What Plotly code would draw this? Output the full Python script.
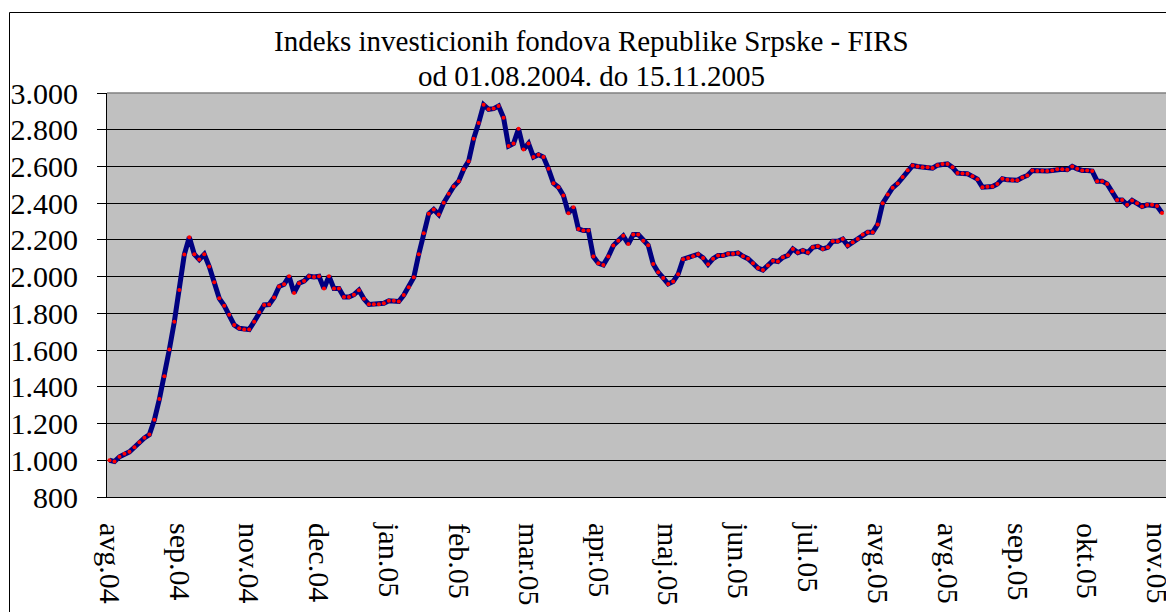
import plotly.graph_objects as go

# FIRS index values (one per observation, 01.08.2004 - 15.11.2005)
values = [
    1000, 993, 1019, 1035, 1046, 1071, 1098, 1122, 1140, 1220,
    1333, 1458, 1603, 1755, 1927, 2120, 2215, 2122, 2093, 2122,
    2055, 1969, 1882, 1842, 1793, 1737, 1719, 1712, 1712, 1755,
    1806, 1846, 1848, 1886, 1946, 1958, 2002, 1911, 1964, 1976,
    2002, 1998, 2002, 1935, 2002, 1935, 1935, 1889, 1889, 1902,
    1926, 1879, 1849, 1849, 1849, 1855, 1869, 1869, 1865, 1900,
    1942, 1996, 2122, 2236, 2342, 2366, 2338, 2402, 2451, 2491,
    2520, 2585, 2629, 2751, 2836, 2936, 2911, 2915, 2929, 2865,
    2711, 2725, 2805, 2693, 2725, 2651, 2664, 2651, 2587, 2509,
    2487, 2442, 2345, 2378, 2260, 2251, 2251, 2109, 2073, 2064,
    2109, 2169, 2196, 2222, 2178, 2229, 2229, 2196, 2171, 2069,
    2024, 1993, 1960, 1973, 2013, 2095, 2102, 2111, 2122, 2102,
    2067, 2098, 2115, 2115, 2124, 2124, 2129, 2111, 2098, 2073,
    2047, 2036, 2060, 2087, 2082, 2105, 2116, 2151, 2131, 2142,
    2131, 2160, 2165, 2151, 2160, 2193, 2193, 2205, 2169, 2187,
    2205, 2229, 2242, 2242, 2284, 2400, 2447, 2484, 2507, 2542,
    2580, 2605, 2600, 2596, 2596, 2591, 2607, 2614, 2614, 2595,
    2564, 2561, 2560, 2546, 2531, 2487, 2489, 2491, 2505, 2533,
    2527, 2525, 2525, 2540, 2551, 2578, 2575, 2576, 2575, 2578,
    2585, 2585, 2582, 2600, 2587, 2578, 2578, 2575, 2520, 2520,
    2505, 2465, 2418, 2418, 2391, 2415, 2400, 2382, 2391, 2391,
    2385, 2347,
]

# category tick labels (every 14th observation)
tick_labels = ["avg.04", "sep.04", "nov.04", "dec.04", "jan.05", "feb.05",
               "mar.05", "apr.05", "maj.05", "jun.05", "jul.05", "avg.05",
               "avg.05", "sep.05", "okt.05", "nov.05"]
tick_step = 14

y_ticks = list(range(800, 3001, 200))

title_line1 = "Indeks investicionih fondova Republike Srpske - FIRS"
title_line2 = "od 01.08.2004. do 15.11.2005"

x_idx = list(range(len(values)))
tick_positions = [i * tick_step for i in range(len(tick_labels))]

FONT = "Liberation Serif"

fig = go.Figure()
fig.add_trace(go.Scatter(
    x=x_idx, y=values, mode="lines",
    line=dict(color="#000080", width=5),
    hoverinfo="skip", showlegend=False,
))
fig.add_trace(go.Scatter(
    x=x_idx, y=values, mode="markers",
    marker=dict(color="#FF0000", size=4, line=dict(width=0)),
    showlegend=False,
))

# page body has an 8px margin, so the figure is offset by 8px in the window
OFF = 8
W, H = 1174 - OFF, 612 - OFF
L, R, T, B = 99, 6, 85, 115
pw = W - L - R
ph = H - T - B

def sx(px):  # window pixel -> paper x
    return (px - OFF - L) / pw

def sy(py):  # window pixel -> paper y
    return (H - B - (py - OFF)) / ph

fig.update_layout(
    width=W, height=H,
    margin=dict(l=L, r=R, t=T, b=B, pad=0, autoexpand=False),
    paper_bgcolor="white",
    plot_bgcolor="#C0C0C0",
    separators=",.",
    font=dict(family=FONT, size=30, color="black"),
    xaxis=dict(
        range=[-0.5, len(values) + 0.2],
        tickmode="array", tickvals=tick_positions, ticktext=tick_labels,
        tickangle=90, ticks="", showgrid=False, zeroline=False,
        showline=True, linecolor="black", linewidth=1,
        ticklabelstandoff=19, automargin=False, ticklabeloverflow="allow",
        tickfont=dict(family=FONT, size=30, color="black"),
    ),
    yaxis=dict(
        range=[800, 3000], tickmode="array", tickvals=y_ticks,
        tickformat=",d", ticks="outside", ticklen=9, tickcolor="black",
        tickwidth=1,
        showgrid=True, gridcolor="black", gridwidth=1, zeroline=False,
        showline=True, linecolor="black", linewidth=1,
        ticklabelstandoff=13, automargin=False, ticklabeloverflow="allow",
        tickfont=dict(family=FONT, size=30, color="black"),
    ),
    annotations=[
        dict(text=title_line1, x=sx(591), y=sy(41),
             xref="paper", yref="paper", showarrow=False,
             xanchor="center", yanchor="middle",
             font=dict(family=FONT, size=29, color="black")),
        dict(text=title_line2, x=sx(591), y=sy(76),
             xref="paper", yref="paper", showarrow=False,
             xanchor="center", yanchor="middle",
             font=dict(family=FONT, size=29, color="black")),
    ],
    shapes=[
        # outer chart frame
        dict(type="rect", xref="paper", yref="paper",
             x0=sx(9.5), x1=sx(1200),
             y0=sy(650), y1=sy(12.5),
             line=dict(color="black", width=1), fillcolor="rgba(0,0,0,0)",
             layer="above"),
        # plot area top and right borders
        dict(type="line", xref="paper", yref="paper", x0=0, x1=1, y0=1, y1=1,
             line=dict(color="#808080", width=1.5), layer="above"),
        dict(type="line", xref="paper", yref="paper", x0=1, x1=1, y0=0, y1=1,
             line=dict(color="#808080", width=1.5), layer="above"),
    ],
)

fig.write_html("out.html")
